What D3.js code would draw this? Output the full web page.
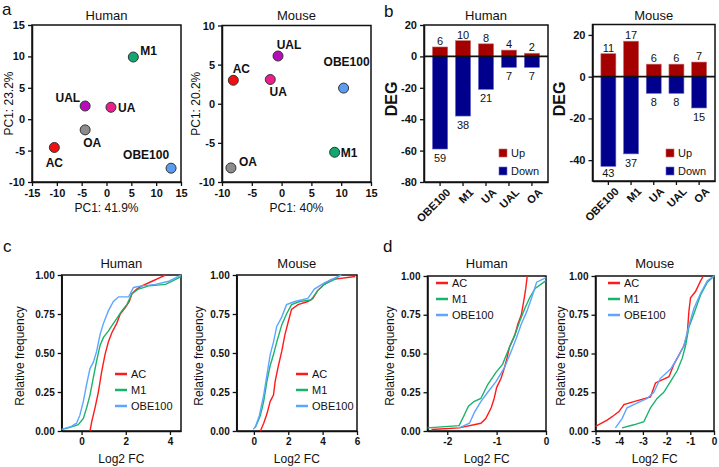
<!DOCTYPE html>
<html><head><meta charset="utf-8">
<script src="https://cdn.jsdelivr.net/npm/d3@7"></script>
<style>body{margin:0;background:#fff} text{font-family:Arial,"Liberation Sans",sans-serif;fill:#111}</style>
</head><body><svg id="fig" width="719" height="467"></svg>
<script>
// ---------------- DATA ----------------
const pcaGroups = ["AC", "M1", "UA", "UAL", "OA", "OBE100"];
const pcaHumanPC1 = [-10.5, 5.4, 0.9, -4.3, -4.3, 13.0];
const pcaHumanPC2 = [-4.5, 9.9, 1.9, 2.1, -1.7, -7.8];
const pcaMousePC1 = [-8.1, 8.9, -1.9, -0.6, -8.5, 10.4];
const pcaMousePC2 = [3.0, -6.2, 3.1, 6.1, -8.2, 2.0];
const pcaHumanXTicks = [-15, -10, -5, 0, 5, 10, 15];
const pcaHumanYTicks = [-10, -5, 0, 5, 10, 15];
const pcaMouseXTicks = [-10, -5, 0, 5, 10, 15];
const pcaMouseYTicks = [-10, -5, 0, 5, 10];

const degCategories = ["OBE100", "M1", "UA", "UAL", "OA"];
const degHumanUp = [6, 10, 8, 4, 2];
const degHumanDown = [59, 38, 21, 7, 7];
const degMouseUp = [11, 17, 6, 6, 7];
const degMouseDown = [43, 37, 8, 8, 15];
const degHumanYTicks = [-80, -60, -40, -20, 0, 20];
const degMouseYTicks = [-40, -20, 0, 20];

const cdfSeries = ["AC", "M1", "OBE100"];
const freqTicks = [0, 0.25, 0.5, 0.75, 1];
const upHumanXTicks = [0, 2, 4];
const upMouseXTicks = [0, 2, 4, 6];
const downHumanXTicks = [-2, -1, 0];
const downMouseXTicks = [-5, -4, -3, -2, -1, 0];

// cumulative curves: [log2FC, relative frequency]
const upHumanAC = [[0.38,0],[0.46,0.06],[0.61,0.15],[0.76,0.25],[0.91,0.38],[1.06,0.49],[1.21,0.57],[1.37,0.63],[1.59,0.69],[1.75,0.75],[1.97,0.79],[2.16,0.83],[2.28,0.88],[2.5,0.91],[2.73,0.93],[3.19,0.96],[3.5,0.98],[3.8,1.0]];
const upHumanM1 = [[-0.9,0.01],[-0.6,0.02],[-0.15,0.04],[0.08,0.08],[0.23,0.15],[0.38,0.23],[0.53,0.34],[0.68,0.45],[0.84,0.55],[0.99,0.6],[1.21,0.64],[1.44,0.69],[1.59,0.72],[1.82,0.77],[2.05,0.81],[2.28,0.88],[2.58,0.91],[3.04,0.93],[3.8,0.94],[4.1,0.96],[4.5,0.99]];
const upHumanOBE100 = [[-0.9,0.01],[-0.46,0.03],[-0.23,0.05],[-0.08,0.1],[0.08,0.19],[0.23,0.3],[0.38,0.4],[0.53,0.44],[0.68,0.51],[0.84,0.62],[0.99,0.69],[1.21,0.77],[1.44,0.83],[1.67,0.86],[2.13,0.86],[2.35,0.92],[2.73,0.93],[3.34,0.94],[3.95,0.96],[4.5,1.0]];
const upMouseAC = [[0.38,0],[0.57,0.05],[0.76,0.11],[0.95,0.19],[1.14,0.23],[1.24,0.32],[1.43,0.42],[1.62,0.51],[1.81,0.62],[2.0,0.7],[2.19,0.78],[2.57,0.81],[3.14,0.83],[3.43,0.85],[3.71,0.9],[4.1,0.94],[4.48,0.97],[5.9,0.99]];
const upMouseM1 = [[0.06,0.02],[0.19,0.05],[0.38,0.1],[0.57,0.19],[0.76,0.32],[0.95,0.42],[1.14,0.49],[1.33,0.57],[1.62,0.68],[1.9,0.75],[2.19,0.81],[2.67,0.83],[3.33,0.84],[3.71,0.9],[4.1,0.94],[4.67,0.97],[5.05,1.0]];
const upMouseOBE100 = [[-0.04,0.01],[0.1,0.03],[0.32,0.1],[0.57,0.23],[0.76,0.36],[0.95,0.49],[1.14,0.57],[1.33,0.67],[1.62,0.73],[1.9,0.81],[2.38,0.83],[3.14,0.85],[3.52,0.91],[4.1,0.95],[5.09,1.0]];
const downHumanAC = [[-2.32,0.01],[-1.76,0.02],[-1.32,0.05],[-1.22,0.08],[-1.11,0.15],[-1.05,0.21],[-1.0,0.28],[-0.91,0.34],[-0.84,0.41],[-0.79,0.47],[-0.74,0.54],[-0.63,0.62],[-0.57,0.69],[-0.5,0.75],[-0.45,0.84],[-0.41,0.92],[-0.38,1.0]];
const downHumanM1 = [[-2.4,0.02],[-1.76,0.035],[-1.66,0.1],[-1.57,0.16],[-1.46,0.19],[-1.32,0.21],[-1.18,0.3],[-1.01,0.38],[-0.88,0.43],[-0.74,0.54],[-0.63,0.62],[-0.53,0.71],[-0.43,0.79],[-0.33,0.86],[-0.22,0.92],[0,0.97]];
const downHumanOBE100 = [[-1.76,0.02],[-1.55,0.05],[-1.45,0.12],[-1.32,0.19],[-1.18,0.25],[-1.01,0.32],[-0.84,0.41],[-0.71,0.51],[-0.6,0.6],[-0.5,0.69],[-0.39,0.77],[-0.29,0.86],[-0.19,0.96],[0,0.99]];
const downMouseAC = [[-5,0.03],[-4.51,0.07],[-4.23,0.1],[-4.01,0.125],[-3.8,0.17],[-3.38,0.19],[-2.68,0.22],[-2.47,0.31],[-2.19,0.33],[-1.9,0.35],[-1.69,0.43],[-1.48,0.49],[-1.27,0.55],[-1.13,0.62],[-1.06,0.77],[-0.99,0.86],[-0.78,0.9],[-0.56,0.97],[-0.45,1.0]];
const downMouseM1 = [[-3.88,0.02],[-3.38,0.04],[-2.96,0.06],[-2.68,0.15],[-2.4,0.21],[-2.12,0.25],[-1.83,0.32],[-1.55,0.39],[-1.34,0.47],[-1.2,0.55],[-1.06,0.67],[-0.91,0.73],[-0.77,0.79],[-0.56,0.88],[-0.28,0.96],[0,1.0]];
const downMouseOBE100 = [[-4.16,0.02],[-3.88,0.08],[-3.67,0.15],[-3.25,0.18],[-2.82,0.21],[-2.54,0.25],[-2.26,0.34],[-1.83,0.4],[-1.55,0.47],[-1.27,0.55],[-1.06,0.68],[-0.85,0.79],[-0.56,0.89],[-0.28,0.97],[0,1.0]];

// ---------------- STYLE ----------------
const pcaColors = {AC:"#f01010", M1:"#10a870", UA:"#ea1f8c", UAL:"#b80cbc", OA:"#8c8c8c", OBE100:"#5a9cf0"};
const lineColors = {AC:"#ff1a1a", M1:"#19b36b", OBE100:"#5ca6ff"};
const upColor = "#a40000", downColor = "#00008c";
// label placement (dx, dy, anchor) for PCA points
const humanLabelPos = {AC:[0,20,"middle"], M1:[7,-2,"start"], UA:[7,5,"start"], UAL:[-5,-4,"end"], OA:[7,17,"middle"], OBE100:[-25,-9,"middle"]};
const mouseLabelPos = {AC:[8,-7,"middle"], M1:[6,5,"start"], UA:[8,17,"middle"], UAL:[11,-7,"middle"], OA:[17,-2,"middle"], OBE100:[3,-22,"middle"]};

const svg = d3.select("#fig");

function panel(b, xDomain, yDomain, xTicks, yTicks, xFmt, yFmt, fs) {
  const x = d3.scaleLinear().domain(xDomain).range([b.x0, b.x1]);
  const y = d3.scaleLinear().domain(yDomain).range([b.y1, b.y0]);
  const g = svg.append("g");
  g.append("rect").attr("x", b.x0).attr("y", b.y0).attr("width", b.x1 - b.x0).attr("height", b.y1 - b.y0)
    .attr("fill", "none").attr("stroke", "#111").attr("stroke-width", 1.5);
  const ax = g.append("g").attr("transform", `translate(0,${b.y1})`)
    .call(d3.axisBottom(x).tickValues(xTicks).tickFormat(xFmt).tickSize(4).tickSizeOuter(0));
  const ay = g.append("g").attr("transform", `translate(${b.x0},0)`)
    .call(d3.axisLeft(y).tickValues(yTicks).tickFormat(yFmt).tickSize(4).tickSizeOuter(0));
  [ax, ay].forEach(a => {
    a.select(".domain").attr("stroke", "#111").attr("stroke-width", 1.5);
    a.selectAll(".tick line").attr("stroke", "#111").attr("stroke-width", 1.3);
    a.selectAll(".tick text").attr("font-size", fs).attr("font-weight", "bold").attr("fill", "#111")
      .style("font-family", "Arial, 'Liberation Sans', sans-serif");
  });
  return {x, y, g, ax, ay};
}
const S = d => String(d);
function title(txt, cx, y) {
  svg.append("text").attr("x", cx).attr("y", y).attr("text-anchor", "middle").attr("font-size", 13).text(txt);
}
function ylab(txt, x, cy, fs, bold) {
  svg.append("text").attr("transform", `translate(${x},${cy}) rotate(-90)`).attr("text-anchor", "middle")
    .attr("dominant-baseline", "middle").attr("font-size", fs).attr("font-weight", bold ? "bold" : "normal").text(txt);
}
function xlab(txt, cx, y) {
  svg.append("text").attr("x", cx).attr("y", y).attr("text-anchor", "middle").attr("font-size", 12).text(txt);
}
function letter(t, x, y) {
  svg.append("text").attr("x", x).attr("y", y).attr("font-size", 17).text(t);
}

// ---------------- PANEL a ----------------
function pca(b, xd, yd, xt, yt, px, py, pos, ttl, xl, yl, ylx) {
  const p = panel(b, xd, yd, xt, yt, S, S, 11);
  pcaGroups.forEach((name, i) => {
    const cx = p.x(px[i]), cy = p.y(py[i]);
    p.g.append("circle").attr("cx", cx).attr("cy", cy).attr("r", 5)
      .attr("fill", pcaColors[name]).attr("stroke", "#333").attr("stroke-width", 1);
    const lp = pos[name];
    p.g.append("text").attr("x", cx + lp[0]).attr("y", cy + lp[1]).attr("text-anchor", lp[2])
      .attr("font-size", 12).attr("font-weight", "bold").text(name);
  });
  title(ttl, (b.x0 + b.x1) / 2, 20);
  xlab(xl, (b.x0 + b.x1) / 2, 212);
  ylab(yl, ylx, (b.y0 + b.y1) / 2, 12, false);
}
letter("a", 2, 15);
pca({x0:32, x1:181, y0:25, y1:182}, [-15, 15], [-10, 15], pcaHumanXTicks, pcaHumanYTicks,
    pcaHumanPC1, pcaHumanPC2, humanLabelPos, "Human", "PC1: 41.9%", "PC1: 23.2%", 10);
pca({x0:222, x1:371, y0:25.5, y1:182}, [-10, 15], [-10, 10], pcaMouseXTicks, pcaMouseYTicks,
    pcaMousePC1, pcaMousePC2, mouseLabelPos, "Mouse", "PC1: 40%", "PC1: 20.2%", 197);

// ---------------- PANEL b ----------------
function deg(b, yd, yt, up, down, ttl, ylx) {
  const p = panel(b, [0, 1], yd, [], yt, S, S, 11);
  p.ax.remove();
  const xb = d3.scaleBand().domain(degCategories).range([b.x0, b.x1]).paddingInner(0.34).paddingOuter(0.37);
  const ax = p.g.append("g").attr("transform", `translate(0,${b.y1})`)
    .call(d3.axisBottom(xb).tickSize(4).tickSizeOuter(0));
  ax.select(".domain").attr("stroke", "#111").attr("stroke-width", 1.5);
  ax.selectAll(".tick line").attr("stroke", "#111").attr("stroke-width", 1.3);
  ax.selectAll(".tick text").attr("font-size", 11).attr("font-weight", "bold").attr("fill", "#111")
    .attr("text-anchor", "end").attr("transform", "translate(4,4) rotate(-45)").attr("dy", "0.55em").attr("y", 4).attr("x", 0);
  const y = p.y;
  degCategories.forEach((c, i) => {
    p.g.append("rect").attr("x", xb(c)).attr("width", xb.bandwidth()).attr("y", y(up[i])).attr("height", y(0) - y(up[i]))
      .attr("fill", upColor).attr("stroke", "#c86a6a").attr("stroke-width", 0.6);
    p.g.append("rect").attr("x", xb(c)).attr("width", xb.bandwidth()).attr("y", y(0)).attr("height", y(-down[i]) - y(0))
      .attr("fill", downColor).attr("stroke", "#6a6ad0").attr("stroke-width", 0.6);
    const cx = xb(c) + xb.bandwidth() / 2;
    p.g.append("text").attr("x", cx).attr("y", y(up[i]) - 2).attr("text-anchor", "middle").attr("font-size", 11).text(up[i]);
    p.g.append("text").attr("x", cx).attr("y", Math.min(y(-down[i]) + 13, b.y1 - 4)).attr("text-anchor", "middle").attr("font-size", 11).text(down[i]);
  });
  p.g.append("line").attr("x1", b.x0).attr("x2", b.x1).attr("y1", y(0)).attr("y2", y(0)).attr("stroke", "#111").attr("stroke-width", 1.6);
  const lx = b.x1 - 49;
  [["Up", upColor, "#c86a6a", 153], ["Down", downColor, "#6a6ad0", 171]].forEach(([t, c, s, ly]) => {
    p.g.append("rect").attr("x", lx).attr("y", ly - 4).attr("width", 8).attr("height", 8).attr("fill", c).attr("stroke", s).attr("stroke-width", 0.6);
    p.g.append("text").attr("x", lx + 12).attr("y", ly + 4).attr("font-size", 11).text(t);
  });
  title(ttl, (b.x0 + b.x1) / 2, 20);
  ylab("DEG", ylx, 99, 16, true);
}
letter("b", 384, 17);
deg({x0:424, x1:548, y0:25, y1:182}, [-80, 20], degHumanYTicks, degHumanUp, degHumanDown, "Human", 393);
deg({x0:592.5, x1:715, y0:24.5, y1:181}, [-50, 25], degMouseYTicks, degMouseUp, degMouseDown, "Mouse", 561);

// ---------------- PANELS c, d ----------------
const f2 = d3.format(".2f");
function cdf(b, xd, xt, series, ttl, ylx, legend) {
  const p = panel(b, xd, [0, 1], xt, freqTicks, S, f2, 10);
  const line = d3.line().x(d => p.x(d[0])).y(d => p.y(d[1]));
  cdfSeries.forEach((name, i) => {
    p.g.append("path").datum(series[i]).attr("d", line).attr("fill", "none")
      .attr("stroke", lineColors[name]).attr("stroke-width", 1.4);
  });
  cdfSeries.forEach((name, i) => {
    const ly = legend.y + i * 16;
    p.g.append("line").attr("x1", legend.x).attr("x2", legend.x + 12).attr("y1", ly).attr("y2", ly)
      .attr("stroke", lineColors[name]).attr("stroke-width", 2.5);
    p.g.append("text").attr("x", legend.x + 16).attr("y", ly + 4).attr("font-size", 11).text(name);
  });
  title(ttl, (b.x0 + b.x1) / 2, 268);
  xlab("Log2 FC", (b.x0 + b.x1) / 2, 463);
  ylab("Relative frequency", ylx, 356, 12, false);
}
letter("c", 3, 252);
cdf({x0:61.7, x1:181, y0:275, y1:431}, [-0.9, 4.5], upHumanXTicks, [upHumanAC, upHumanM1, upHumanOBE100], "Human", 21, {x:115, y:374});
cdf({x0:236.7, x1:357, y0:275, y1:431}, [-1, 6], upMouseXTicks, [upMouseAC, upMouseM1, upMouseOBE100], "Mouse", 200, {x:296, y:374});
letter("d", 383, 252);
cdf({x0:427.5, x1:546, y0:276, y1:431}, [-2.4, 0], downHumanXTicks, [downHumanAC, downHumanM1, downHumanOBE100], "Human", 391, {x:436, y:283});
cdf({x0:595.5, x1:714, y0:276, y1:431}, [-5, 0], downMouseXTicks, [downMouseAC, downMouseM1, downMouseOBE100], "Mouse", 562, {x:608, y:283});
</script></body></html>
